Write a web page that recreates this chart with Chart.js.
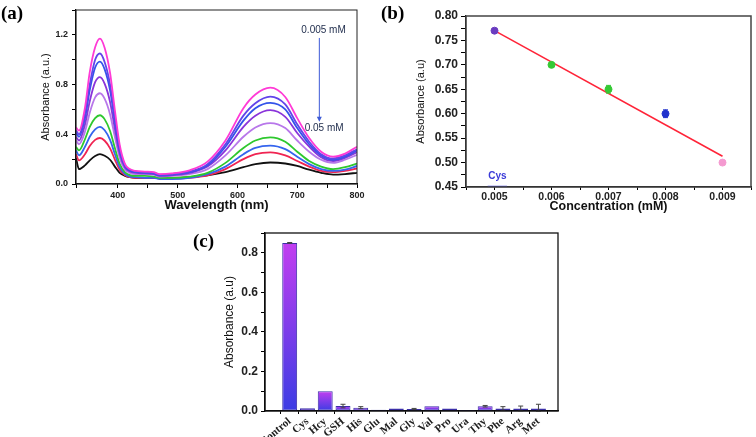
<!DOCTYPE html>
<html>
<head>
<meta charset="utf-8">
<script src="https://cdn.jsdelivr.net/npm/chart.js@4.4.1/dist/chart.umd.min.js"></script>
<style>
  body { margin: 0; background: #fff; }
  #wrap { position: relative; width: 756px; height: 437px; overflow: hidden; background: #fff; }
  canvas { position: absolute; }
  .tag { position: absolute; font: bold 19px "Liberation Serif", "Times New Roman", serif; color: #000; line-height: 1; }
</style>
</head>
<body>
<div id="wrap">
  <canvas id="cA" width="370" height="215" style="left:0;top:0"></canvas>
  <canvas id="cB" width="376" height="215" style="left:380px;top:0"></canvas>
  <canvas id="cC" width="385" height="217" style="left:180px;top:220px"></canvas>
  <div class="tag" style="left:1px;top:3px">(a)</div>
  <div class="tag" style="left:381px;top:3px">(b)</div>
  <div class="tag" style="left:193px;top:231px">(c)</div>
</div>
<script>
// (a) absorption spectra, 0.005 mM (top) -> 0.05 mM (bottom)
const wavelengths = [330, 335, 345, 353, 362, 370, 378, 387, 395, 403, 412, 420, 430, 445, 460, 470, 490, 520, 550, 580, 610, 630, 655, 680, 700, 720, 740, 760, 780, 800];
const spec1 = [0.456, 0.43, 0.615, 0.90, 1.10, 1.17, 1.095, 0.893, 0.595, 0.318, 0.16, 0.12, 0.105, 0.10, 0.095, 0.08, 0.085, 0.11, 0.18, 0.35, 0.61, 0.72, 0.775, 0.70, 0.53, 0.37, 0.26, 0.22, 0.245, 0.30];
const spec2 = [0.43, 0.40, 0.56, 0.80, 1.0, 1.05, 0.98, 0.80, 0.537, 0.29, 0.15, 0.114, 0.10, 0.095, 0.09, 0.075, 0.08, 0.10, 0.16, 0.32, 0.55, 0.65, 0.703, 0.64, 0.48, 0.34, 0.24, 0.205, 0.23, 0.28];
const spec3 = [0.41, 0.38, 0.53, 0.755, 0.937, 0.985, 0.922, 0.754, 0.504, 0.273, 0.145, 0.108, 0.095, 0.09, 0.085, 0.07, 0.075, 0.095, 0.15, 0.30, 0.51, 0.61, 0.653, 0.60, 0.45, 0.32, 0.23, 0.195, 0.22, 0.27];
const spec4 = [0.38, 0.35, 0.478, 0.666, 0.819, 0.86, 0.806, 0.66, 0.444, 0.244, 0.133, 0.10, 0.09, 0.085, 0.08, 0.065, 0.07, 0.09, 0.14, 0.27, 0.46, 0.55, 0.594, 0.54, 0.41, 0.30, 0.215, 0.185, 0.21, 0.255];
const spec5 = [0.35, 0.32, 0.42, 0.574, 0.697, 0.73, 0.685, 0.56, 0.379, 0.21, 0.117, 0.09, 0.08, 0.08, 0.075, 0.06, 0.065, 0.08, 0.12, 0.23, 0.38, 0.455, 0.49, 0.45, 0.35, 0.26, 0.195, 0.17, 0.195, 0.235];
const spec6 = [0.30, 0.27, 0.36, 0.46, 0.53, 0.553, 0.52, 0.426, 0.29, 0.163, 0.094, 0.072, 0.065, 0.065, 0.06, 0.05, 0.05, 0.06, 0.09, 0.17, 0.29, 0.35, 0.375, 0.34, 0.26, 0.185, 0.14, 0.12, 0.135, 0.165];
const spec7 = [0.27, 0.23, 0.30, 0.38, 0.44, 0.46, 0.432, 0.355, 0.241, 0.136, 0.08, 0.06, 0.055, 0.05, 0.05, 0.04, 0.04, 0.05, 0.08, 0.14, 0.24, 0.29, 0.308, 0.28, 0.22, 0.16, 0.12, 0.105, 0.115, 0.145];
const spec8 = [0.24, 0.19, 0.24, 0.305, 0.355, 0.37, 0.348, 0.287, 0.197, 0.114, 0.07, 0.055, 0.05, 0.05, 0.05, 0.045, 0.045, 0.05, 0.07, 0.12, 0.20, 0.24, 0.254, 0.23, 0.185, 0.14, 0.105, 0.095, 0.105, 0.125];
const spec9 = [0.21, 0.12, 0.15, 0.19, 0.225, 0.24, 0.227, 0.195, 0.14, 0.09, 0.065, 0.055, 0.05, 0.05, 0.05, 0.05, 0.05, 0.055, 0.07, 0.095, 0.135, 0.16, 0.173, 0.165, 0.145, 0.115, 0.09, 0.075, 0.08, 0.09];
const spectra = [spec1, spec2, spec3, spec4, spec5, spec6, spec7, spec8, spec9];
const specColors = ['#ff3ad6', '#6244ea', '#3453ea', '#8a34da', '#b877ea', '#2ec82e', '#3565ee', '#f02452', '#111111'];

// (b) calibration
const concX = [0.005, 0.006, 0.007, 0.008, 0.009];
const absY = [0.77, 0.70, 0.65, 0.60, 0.50];
const absErr = [0.003, 0.004, 0.008, 0.008, 0.004];
const pointFill = ['#6a3cc0', '#35c935', '#35c935', '#2233cc', '#f49ad0'];
const fitX = [0.005, 0.009];
const fitY = [0.770, 0.513];

// (c) selectivity
const analytes = ['Control', 'Cys', 'Hcy', 'GSH', 'His', 'Glu', 'Mal', 'Gly', 'Val', 'Pro', 'Ura', 'Thy', 'Phe', 'Arg', 'Met'];
const absC = [0.85, 0.014, 0.10, 0.025, 0.017, 0.006, 0.013, 0.01, 0.024, 0.013, 0.005, 0.024, 0.013, 0.013, 0.013];
const errC = [0.002, 0, 0, 0.009, 0.005, 0, 0, 0.003, 0, 0, 0, 0.004, 0.009, 0.012, 0.021];

Chart.defaults.font.family = '"Liberation Sans", Arial, sans-serif';
Chart.defaults.color = '#1a1a1a';

// box round the plot area
const frame = {
  id: 'frame',
  afterDraw(chart, args, o) {
    const { ctx, chartArea: a } = chart;
    ctx.save();
    ctx.strokeStyle = o.color || '#000';
    ctx.lineWidth = o.width || 1;
    ctx.strokeRect(a.left, a.top, a.right - a.left, a.bottom - a.top);
    ctx.restore();
  }
};

// vertical error bars with caps
const errorBars = {
  id: 'errorBars',
  afterDatasetsDraw(chart, args, o) {
    const { ctx, scales: { x, y } } = chart;
    ctx.save();
    ctx.lineWidth = 1;
    o.xs.forEach((xv, i) => {
      const e = o.err[i];
      if (!e) return;
      const px = x.getPixelForValue(xv);
      const t = y.getPixelForValue(o.ys[i] + e);
      const b = y.getPixelForValue(Math.max(o.ys[i] - e, 0));
      ctx.strokeStyle = Array.isArray(o.color) ? o.color[i] : o.color;
      ctx.beginPath();
      ctx.moveTo(px, t); ctx.lineTo(px, b);
      ctx.moveTo(px - o.cap, t); ctx.lineTo(px + o.cap, t);
      ctx.moveTo(px - o.cap, b); ctx.lineTo(px + o.cap, b);
      ctx.stroke();
    });
    ctx.restore();
  }
};

// concentration arrow in (a)
const notesA = {
  id: 'notesA',
  afterDatasetsDraw(chart) {
    const { ctx, scales: { x, y } } = chart;
    const ax = x.getPixelForValue(737);
    const y0 = y.getPixelForValue(1.175), y1 = y.getPixelForValue(0.50);
    ctx.save();
    ctx.font = '10px "Liberation Sans", Arial, sans-serif';
    ctx.fillStyle = '#23304f';
    ctx.textAlign = 'center';
    ctx.textBaseline = 'middle';
    ctx.fillText('0.005 mM', x.getPixelForValue(744), y.getPixelForValue(1.235));
    ctx.fillText('0.05 mM', x.getPixelForValue(745), y.getPixelForValue(0.45));
    ctx.strokeStyle = '#3d5ad6';
    ctx.fillStyle = '#3d5ad6';
    ctx.lineWidth = 1;
    ctx.beginPath(); ctx.moveTo(ax, y0); ctx.lineTo(ax, y1 - 4); ctx.stroke();
    ctx.beginPath(); ctx.moveTo(ax - 2.5, y1 - 5); ctx.lineTo(ax + 2.5, y1 - 5); ctx.lineTo(ax, y1); ctx.closePath(); ctx.fill();
    ctx.restore();
  }
};

// legend text in (b)
const notesB = {
  id: 'notesB',
  afterDatasetsDraw(chart) {
    const { ctx, scales: { x, y } } = chart;
    ctx.save();
    ctx.font = 'bold 10px "Liberation Sans", Arial, sans-serif';
    ctx.fillStyle = '#3a3ad8';
    ctx.textAlign = 'center';
    ctx.textBaseline = 'middle';
    ctx.fillText('Cys', x.getPixelForValue(0.00505), y.getPixelForValue(0.471));
    ctx.strokeStyle = '#3a3ad8';
    ctx.beginPath();
    ctx.moveTo(x.getPixelForValue(0.00488), y.getPixelForValue(0.4515));
    ctx.lineTo(x.getPixelForValue(0.00522), y.getPixelForValue(0.4515));
    ctx.stroke();
    ctx.restore();
  }
};

const tickFont = (size) => ({ size, weight: 'bold' });
const off = { legend: { display: false }, tooltip: { enabled: false } };

// ---- (a)
new Chart(document.getElementById('cA'), {
  type: 'line',
  data: {
    datasets: spectra.map((s, i) => ({
      data: wavelengths.map((w, k) => ({ x: w, y: s[k] })),
      borderColor: specColors[i],
      borderWidth: 1.8,
      pointRadius: 0,
      cubicInterpolationMode: 'monotone',
      fill: false
    }))
  },
  options: {
    responsive: false,
    animation: false,
    layout: { padding: { top: 10, right: 13, left: 0, bottom: 0 } },
    plugins: { ...off, frame: { color: '#222', width: 1 } },
    scales: {
      x: {
        type: 'linear', min: 330, max: 800,
        grid: { drawOnChartArea: false, tickLength: 4, color: '#000' },
        border: { color: '#000', width: 1.2 },
        ticks: { stepSize: 50, autoSkip: false, maxRotation: 0, padding: 2, font: tickFont(9), color: '#222',
          callback: v => v % 100 === 0 ? v : '' },
        title: { display: true, text: 'Wavelength (nm)', font: { size: 13, weight: 'bold' }, color: '#111', padding: { top: 0, bottom: 2 } },
        afterFit: s => { s.height = 31; }
      },
      y: {
        min: 0, max: 1.4,
        grid: { drawOnChartArea: false, tickLength: 4, color: '#000' },
        border: { color: '#000', width: 1.2 },
        ticks: { stepSize: 0.2, autoSkip: false, padding: 4, font: tickFont(9), color: '#222',
          callback: v => Math.round(v * 10) % 4 === 0 ? v.toFixed(1) : '' },
        title: { display: true, text: 'Absorbance (a.u.)', font: { size: 11 }, color: '#111', padding: { top: 39, bottom: 0 } },
        afterFit: s => { s.width = 76; }
      }
    }
  },
  plugins: [frame, notesA]
});

// ---- (b)
new Chart(document.getElementById('cB'), {
  type: 'scatter',
  data: {
    datasets: [
      {
        data: concX.map((c, i) => ({ x: c, y: absY[i] })),
        pointRadius: 3.5,
        pointBackgroundColor: pointFill,
        pointBorderColor: pointFill,
        pointBorderWidth: 1,
        order: 0
      },
      {
        type: 'line',
        data: fitX.map((c, i) => ({ x: c, y: fitY[i] })),
        borderColor: '#ff2438',
        borderWidth: 1.6,
        pointRadius: 0,
        order: 1
      }
    ]
  },
  options: {
    responsive: false,
    animation: false,
    layout: { padding: { top: 16, right: 3, left: 0, bottom: 0 } },
    plugins: {
      ...off,
      frame: { color: '#444', width: 1.5 },
      errorBars: { xs: concX, ys: absY, err: absErr, color: pointFill, cap: 2.5 }
    },
    scales: {
      x: {
        type: 'linear', min: 0.0045, max: 0.0095,
        grid: { drawOnChartArea: false, tickLength: 3, color: '#000' },
        border: { color: '#000', width: 1.2 },
        ticks: { stepSize: 0.0005, autoSkip: false, maxRotation: 0, padding: 1, font: tickFont(10.5), color: '#222',
          callback: v => Math.round(v * 10000) % 10 === 0 ? v.toFixed(3) : '' },
        title: { display: true, text: 'Concentration (mM)', font: { size: 12.5, weight: 'bold' }, color: '#111', padding: { top: 0, bottom: 1 } },
        afterFit: s => { s.height = 28; }
      },
      y: {
        min: 0.45, max: 0.80,
        grid: { drawOnChartArea: false, tickLength: 5, color: '#000' },
        border: { color: '#000', width: 1.2 },
        ticks: { stepSize: 0.025, autoSkip: false, padding: 3, font: tickFont(12), color: '#222',
          callback: v => Math.round(v * 1000) % 50 === 0 ? v.toFixed(2) : '' },
        title: { display: true, text: 'Absorbance (a.u)', font: { size: 11 }, color: '#111', padding: { top: 34, bottom: 0 } },
        afterFit: s => { s.width = 86; }
      }
    }
  },
  plugins: [frame, errorBars, notesB]
});

// ---- (c)
new Chart(document.getElementById('cC'), {
  type: 'bar',
  data: {
    datasets: [{
      data: analytes.map((n, i) => ({ x: i, y: absC[i] })),
      barPercentage: 0.84,
      categoryPercentage: 1,
      borderColor: '#3b2fa8',
      borderWidth: 1,
      borderSkipped: false,
      backgroundColor: (c) => {
        const y = c.chart.scales.y;
        if (!y || !c.raw) return '#7a3ce8';
        const top = y.getPixelForValue(c.raw.y), bot = y.getPixelForValue(0);
        if (!isFinite(top) || !isFinite(bot)) return '#7a3ce8';
        const g = c.chart.ctx.createLinearGradient(0, bot, 0, Math.min(top, bot - 2));
        g.addColorStop(0, '#3c3ce4');
        g.addColorStop(1, '#c23ef0');
        return g;
      }
    }]
  },
  options: {
    responsive: false,
    animation: false,
    layout: { padding: { top: 13, right: 7, left: 0, bottom: 0 } },
    plugins: {
      ...off,
      frame: { color: '#111', width: 1.3 },
      errorBars: { xs: analytes.map((n, i) => i), ys: absC, err: errC, color: '#444', cap: 2.5 }
    },
    scales: {
      x: {
        type: 'linear', min: -0.84, max: 14.55,
        grid: { drawOnChartArea: false, tickLength: 3, color: '#000' },
        border: { color: '#000', width: 1.3 },
        ticks: { stepSize: 1, includeBounds: false, autoSkip: false, minRotation: 40, maxRotation: 40, padding: 1,
          font: { family: '"Liberation Serif", "Times New Roman", serif', size: 11, weight: 'bold' }, color: '#222',
          callback: v => analytes[v] ?? '' },
        afterFit: s => { s.height = 26; }
      },
      y: {
        min: 0, max: 0.9,
        grid: { drawOnChartArea: false, tickLength: 4, color: '#000' },
        border: { color: '#000', width: 1.3 },
        ticks: { stepSize: 0.1, autoSkip: false, padding: 3, font: tickFont(12), color: '#222',
          callback: v => Math.round(v * 10) % 2 === 0 ? v.toFixed(1) : '' },
        title: { display: true, text: 'Absorbance (a.u)', font: { size: 12 }, color: '#111', padding: { top: 42, bottom: 0 } },
        afterFit: s => { s.width = 85; }
      }
    }
  },
  plugins: [frame, errorBars]
});
</script>
</body>
</html>
